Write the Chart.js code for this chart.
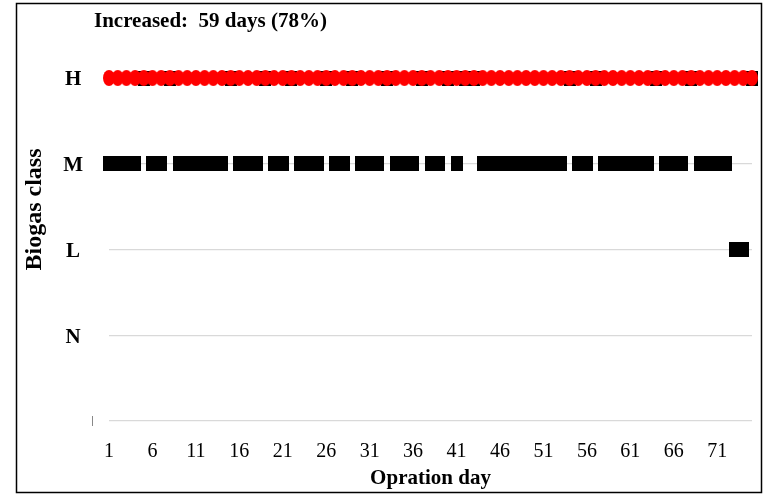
<!DOCTYPE html>
<html>
<head>
<meta charset="utf-8">
<script src="https://cdn.jsdelivr.net/npm/chart.js@4.4.1/dist/chart.umd.min.js"></script>
<style>
  html, body { margin: 0; padding: 0; background: #ffffff; }
  canvas { display: block; }
</style>
</head>
<body>
<canvas id="c" width="765" height="494"></canvas>
<script>
// ---- data ----
const days = [
  '1','2','3','4','5','6','7','8','9','10','11','12','13','14','15',
  '16','17','18','19','20','21','22','23','24','25','26','27','28','29','30',
  '31','32','33','34','35','36','37','38','39','40','41','42','43','44','45',
  '46','47','48','49','50','51','52','53','54','55','56','57','58','59','60',
  '61','62','63','64','65','66','67','68','69','70','71','72','73','74','75'
];
const yClasses = ['', 'N', 'L', 'M', 'H'];
const xTickLabels = ['1','6','11','16','21','26','31','36','41','46','51','56','61','66','71'];
const redSeries = [
  'H','H','H','H','H', 'H','H','H','H','H', 'H','H','H','H','H',
  'H','H','H','H','H', 'H','H','H','H','H', 'H','H','H','H','H',
  'H','H','H','H','H', 'H','H','H','H','H', 'H','H','H','H','H',
  'H','H','H','H','H', 'H','H','H','H','H', 'H','H','H','H','H',
  'H','H','H','H','H', 'H','H','H','H','H', 'H','H','H','H','H'
];
const blackSeries = [
  'M','M','M','M','H', 'M','M','H','M','M', 'M','M','M','M','H',
  'M','M','M','H','M', 'M','H','M','M','M', 'H','M','M','H','M',
  'M','M','H','M','M', 'M','H','M','M','H', 'M','H','H','M','M',
  'M','M','M','M','M', 'M','M','M','H','M', 'M','H','M','M','M',
  'M','M','M','H','M', 'M','M','H','M','M', 'M','M','L','L','H'
];
const titleText = 'Increased:  59 days (78%)';
const xTitle = 'Opration day';
const yTitle = 'Biogas class';

// ---- marker shapes ----
function makeMarker(w, h, color, shape) {
  const c = document.createElement('canvas');
  c.width = w; c.height = h;
  const g = c.getContext('2d');
  g.fillStyle = color;
  if (shape === 'ellipse') {
    g.beginPath();
    g.ellipse(w / 2, h / 2, w / 2, h / 2, 0, 0, Math.PI * 2);
    g.fill();
  } else {
    g.fillRect(0, 0, w, h);
  }
  return c;
}
const redMarker = makeMarker(12, 16, '#ff0000', 'ellipse');
const blackMarker = makeMarker(12, 15, '#000000', 'rect');

const FONT = 'Liberation Serif';

const decorPlugin = {
  id: 'decor',
  afterDraw(chart) {
    const ctx = chart.ctx;
    const a = chart.chartArea;
    ctx.save();
    ctx.strokeStyle = '#000';
    ctx.lineWidth = 1.5;
    ctx.strokeRect(16.5, 3.5, 745, 489);
    ctx.fillStyle = '#000';
    ctx.font = 'bold 21px "' + FONT + '"';
    ctx.textBaseline = 'middle';
    ctx.textAlign = 'left';
    ctx.fillText(titleText, a.left - 15, 22);
    // small mark at the bottom category
    ctx.fillStyle = '#888';
    ctx.fillRect(a.left - 17, a.bottom - 5, 1, 10);
    ctx.fillStyle = '#000';
    ctx.font = 'bold 24px "' + FONT + '"';
    ctx.translate(a.left - 74, (a.top + a.bottom) / 2 - 40);
    ctx.rotate(-Math.PI / 2);
    ctx.textAlign = 'center';
    ctx.fillText(yTitle, 0, 0);
    ctx.restore();
  }
};

new Chart(document.getElementById('c'), {
  type: 'line',
  data: {
    labels: days,
    datasets: [
      {
        label: 'Red',
        data: redSeries.map(c => yClasses.indexOf(c)),
        showLine: false,
        pointStyle: redMarker,
        pointRadius: 6,
        pointHoverRadius: 6,
        clip: false
      },
      {
        label: 'Black',
        data: blackSeries.map(c => yClasses.indexOf(c)),
        showLine: false,
        pointStyle: blackMarker,
        pointRadius: 6,
        pointHoverRadius: 6,
        clip: false
      }
    ]
  },
  options: {
    responsive: false,
    animation: false,
    events: [],
    layout: { padding: { left: 18, right: 13, top: 78, bottom: 3 } },
    plugins: {
      legend: { display: false },
      title: { display: false },
      tooltip: { enabled: false }
    },
    scales: {
      x: {
        type: 'category',
        offset: false,
        grid: { display: false, drawTicks: false },
        border: { display: false },
        ticks: {
          autoSkip: false,
          maxRotation: 0,
          minRotation: 0,
          padding: 19,
          color: '#000',
          font: { family: FONT, size: 20 },
          callback: (v, i) => (xTickLabels.includes(days[i]) ? days[i] : '')
        },
        title: {
          display: true,
          text: xTitle,
          color: '#000',
          font: { family: FONT, size: 21, weight: 'bold' },
          padding: { top: 0, bottom: 0 }
        },
        afterFit(s) { s.height = 70; s.paddingLeft = 0; s.paddingRight = 0; }
      },
      y: {
        type: 'linear',
        min: 0,
        max: 4,
        grid: { color: '#d9d9d9', lineWidth: 1.3, drawTicks: false },
        border: { display: false },
        ticks: {
          stepSize: 1,
          padding: 26,
          crossAlign: 'center',
          labelOffset: 2,
          color: '#000',
          font: { family: FONT, size: 21, weight: 'bold' },
          callback: v => yClasses[v]
        },
        afterFit(s) { s.width = 91; }
      }
    }
  },
  plugins: [decorPlugin]
});
</script>
</body>
</html>
